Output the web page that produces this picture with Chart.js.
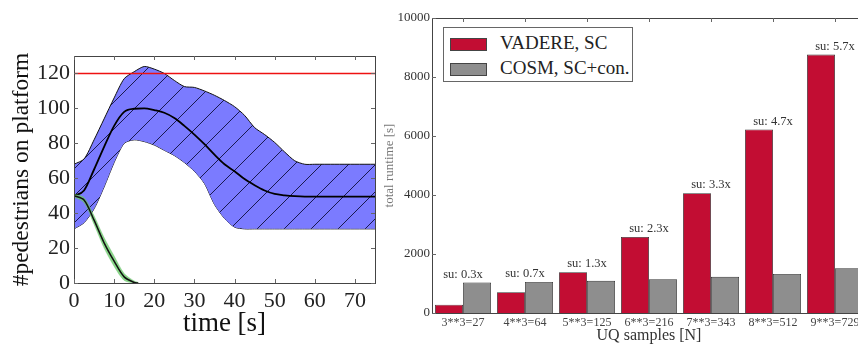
<!DOCTYPE html>
<html>
<head>
<meta charset="utf-8">
<script src="https://cdn.jsdelivr.net/npm/chart.js@4/dist/chart.umd.min.js"></script>
<style>
  html, body { margin: 0; padding: 0; background: #fff; overflow: hidden; }
  body { width: 858px; height: 345px; position: relative; }
  #left { position: absolute; left: 0; top: 0; }
  #right { position: absolute; left: 380px; top: 0; }
  #legend {
    position: absolute; left: 443px; top: 27px; width: 188px; height: 53px;
    border: 1px solid #666; background: #fff;
    font-family: "Liberation Serif", serif; font-size: 19px; color: #222;
  }
  #legend .row { position: absolute; left: 6px; height: 20px; line-height: 20px; }
  #legend .sw { position: absolute; left: 0; top: 4px; width: 35px; height: 11px; border: 1px solid #444; }
  #legend .tx { position: absolute; left: 50px; top: -1px; white-space: nowrap; }
</style>
</head>
<body>
<canvas id="left" width="380" height="345"></canvas>
<canvas id="right" width="492" height="345"></canvas>
<div id="legend">
  <div class="row" style="top:6px"><div class="sw" style="background:#c20d33"></div><div class="tx">VADERE, SC</div></div>
  <div class="row" style="top:31px"><div class="sw" style="background:#8e8e8e"></div><div class="tx">COSM, SC+con.</div></div>
</div>
<script>
// left panel: pedestrians on platform over time
var time = [0, 2.5, 5, 7.5, 10, 12.5, 15, 17.5, 20, 22.5, 25, 27.5, 30, 32.5, 35, 37.5, 40, 42.5, 45, 47.5, 50, 52.5, 55, 57.5, 60, 65, 70, 75];
var upperBand = [68, 71, 82, 94, 106, 117, 121, 124, 122.5, 120, 116, 112.5, 112, 110, 107.5, 104.5, 101, 96, 89, 85, 80.5, 75, 70, 68, 68, 68, 68, 68];
var meanLine = [50, 53, 65, 78, 90, 98, 99.8, 100, 99, 97.5, 94.5, 90, 85, 79.5, 73.5, 68, 64, 59.5, 56, 53, 51, 50.2, 49.7, 49.5, 49.5, 49.5, 49.5, 49.5];
var lowerBand = [31, 34.5, 42.5, 55, 69, 80, 82, 81, 79, 76, 73, 69, 64, 57, 45, 37, 32, 31, 31, 31, 31, 31, 31, 31, 31, 31, 31, 31];

var greenTime = [0, 2.5, 5, 7.5, 10, 12.5, 15, 16];
var greenMean = [50, 47.5, 36, 23, 12.5, 3.5, 0.3, 0];
var greenUpper = [50.8, 49, 38.5, 26, 15.5, 5.5, 1.2, 0.4];
var greenLower = [49.2, 46, 33.5, 20, 9.5, 1.5, 0, 0];

var capacity = 120;
var timeRange = [0, 75];

// right panel: runtimes
var samples = ["3**3=27", "4**3=64", "5**3=125", "6**3=216", "7**3=343", "8**3=512", "9**3=729"];
var vadere = [283, 705, 1380, 2580, 4060, 6220, 8760];
var cosm = [1030, 1055, 1090, 1145, 1225, 1325, 1515];
var speedup = ["su: 0.3x", "su: 0.7x", "su: 1.3x", "su: 2.3x", "su: 3.3x", "su: 4.7x", "su: 5.7x"];

var serif = '"Liberation Serif", "Times New Roman", serif';

function pts(xs, ys) {
    return xs.map(function (x, i) { return { x: x, y: ys[i] }; });
}

function hatch() {
    var c = document.createElement("canvas");
    c.width = 27; c.height = 27;
    var g = c.getContext("2d");
    g.fillStyle = "#7b7bff";
    g.fillRect(0, 0, 27, 27);
    g.strokeStyle = "rgba(20,20,70,0.95)";
    g.lineWidth = 1;
    g.beginPath();
    g.moveTo(-2, 29); g.lineTo(29, -2);
    g.stroke();
    return g.createPattern(c, "repeat");
}

// frame + inward ticks like the classic matplotlib look
var framePlugin = {
    id: "frame",
    afterDraw: function (chart) {
        var ctx = chart.ctx, a = chart.chartArea;
        var xs = chart.scales.x, ys = chart.scales.y;
        ctx.save();
        ctx.strokeStyle = "#444";
        ctx.lineWidth = 1;
        ctx.strokeRect(a.left + 0.5, a.top + 0.5, a.right - a.left, a.bottom - a.top);
        ctx.strokeStyle = "#666";
        ctx.beginPath();
        xs.ticks.forEach(function (t, i) {
            var px = Math.round(xs.getPixelForTick(i)) + 0.5;
            ctx.moveTo(px, a.bottom); ctx.lineTo(px, a.bottom - 4);
            ctx.moveTo(px, a.top); ctx.lineTo(px, a.top + 4);
        });
        ys.ticks.forEach(function (t, i) {
            var py = Math.round(ys.getPixelForTick(i)) + 0.5;
            ctx.moveTo(a.left, py); ctx.lineTo(a.left + 4, py);
            ctx.moveTo(a.right, py); ctx.lineTo(a.right - 4, py);
        });
        ctx.stroke();
        ctx.restore();
    }
};

var speedupPlugin = {
    id: "speedup",
    afterDatasetsDraw: function (chart) {
        var ctx = chart.ctx;
        var m0 = chart.getDatasetMeta(0).data, m1 = chart.getDatasetMeta(1).data;
        ctx.save();
        ctx.font = "12.5px " + serif;
        ctx.fillStyle = "#333";
        ctx.textAlign = "center";
        ctx.textBaseline = "bottom";
        speedup.forEach(function (s, i) {
            var x = (m0[i].x + m1[i].x) / 2;
            var y = Math.min(m0[i].y, m1[i].y) - 2;
            ctx.fillText(s, x, y);
        });
        ctx.restore();
    }
};

new Chart(document.getElementById("left").getContext("2d"), {
    type: "line",
    data: {
        datasets: [{
            data: pts(timeRange, [capacity, capacity]),
            borderColor: "#ee1111", borderWidth: 1.5, pointRadius: 0, fill: false
        }, {
            data: pts(greenTime, greenMean),
            borderColor: "#111", borderWidth: 1.5, pointRadius: 0, fill: false, tension: 0.3
        }, {
            data: pts(greenTime, greenUpper),
            borderColor: "rgba(90,180,90,0.6)", borderWidth: 0.5, pointRadius: 0,
            backgroundColor: "rgba(110,205,110,0.8)", fill: "+1", tension: 0.3
        }, {
            data: pts(greenTime, greenLower),
            borderColor: "rgba(90,180,90,0.6)", borderWidth: 0.5, pointRadius: 0, fill: false, tension: 0.3
        }, {
            data: pts(time, meanLine),
            borderColor: "#000", borderWidth: 1.8, pointRadius: 0, fill: false, cubicInterpolationMode: "monotone"
        }, {
            data: pts(time, upperBand),
            borderColor: "#111", borderWidth: 1, pointRadius: 0,
            backgroundColor: hatch(), fill: "+1", tension: 0.25
        }, {
            data: pts(time, lowerBand),
            borderColor: "#111", borderWidth: 1, pointRadius: 0, fill: false, tension: 0.25
        }]
    },
    options: {
        responsive: false,
        animation: false,
        events: [],
        layout: { padding: { top: 56, right: 5, left: 0, bottom: 0 } },
        plugins: { legend: { display: false }, tooltip: { enabled: false } },
        scales: {
            x: {
                type: "linear", min: 0, max: 75,
                grid: { display: false, drawTicks: false },
                border: { display: false },
                ticks: { stepSize: 10, includeBounds: false, padding: 5, color: "#222", font: { family: serif, size: 22 }, maxRotation: 0 },
                title: { display: true, text: "time [s]", color: "#111", padding: { top: 0, bottom: 5 }, font: { family: serif, size: 27 } },
                afterFit: function (s) { s.height = 62; }
            },
            y: {
                type: "linear", min: 0, max: 130,
                grid: { display: false, drawTicks: false },
                border: { display: false },
                ticks: { stepSize: 20, includeBounds: false, padding: 4, color: "#222", font: { family: serif, size: 22 } },
                title: { display: true, text: "#pedestrians on platform", color: "#111", padding: { top: 8, bottom: 0 }, font: { family: serif, size: 23.5 } },
                afterFit: function (s) { s.width = 74; }
            }
        }
    },
    plugins: [framePlugin]
});

new Chart(document.getElementById("right").getContext("2d"), {
    type: "bar",
    data: {
        labels: samples,
        datasets: [{
            label: "VADERE, SC", data: vadere,
            backgroundColor: "#c20d33", borderColor: "#333", borderWidth: 0.8,
            barPercentage: 1, categoryPercentage: 0.903
        }, {
            label: "COSM, SC+con.", data: cosm,
            backgroundColor: "#8e8e8e", borderColor: "#333", borderWidth: 0.8,
            barPercentage: 1, categoryPercentage: 0.903
        }]
    },
    options: {
        responsive: false,
        animation: false,
        events: [],
        layout: { padding: { top: 18, right: 6, left: 0, bottom: 0 } },
        plugins: { legend: { display: false }, tooltip: { enabled: false } },
        scales: {
            x: {
                grid: { display: false, drawTicks: false },
                border: { display: false },
                ticks: { padding: 3, color: "#444", autoSkip: false, maxRotation: 0, font: { family: serif, size: 12 } },
                title: { display: true, text: "UQ samples [N]", color: "#333", padding: { top: 0, bottom: 0 }, font: { family: serif, size: 16 } },
                afterFit: function (s) { s.height = 32; }
            },
            y: {
                min: 0, max: 10000,
                grid: { display: false, drawTicks: false },
                border: { display: false },
                ticks: {
                    stepSize: 2000, padding: 2, color: "#333", font: { family: serif, size: 13 },
                    callback: function (v) { return String(v); }
                },
                title: { display: true, text: "total runtime [s]", color: "#777", padding: { top: 2, bottom: 0 }, font: { family: serif, size: 13 } },
                afterFit: function (s) { s.width = 52; }
            }
        }
    },
    plugins: [framePlugin, speedupPlugin]
});
</script>
</body>
</html>
